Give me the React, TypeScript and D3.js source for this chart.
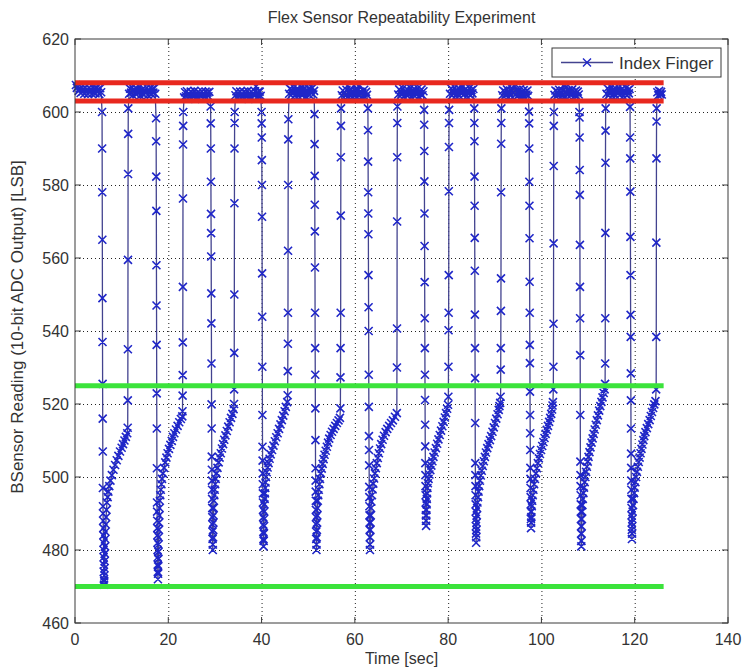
import React, { useEffect, useRef } from 'react';
import * as d3 from 'd3';

type Pt = [number, number];

// axis ticks
const xTicks = [0, 20, 40, 60, 80, 100, 120, 140];
const yTicks = [460, 480, 500, 520, 540, 560, 580, 600, 620];

// threshold lines (red = flexed band, green = released band)
const redLevels = [608, 603];
const greenLevels = [525, 470];
const levelEnd = 126.2;

// index finger readings [time sec, LSB], one array per flex cycle:
// plateau (finger straight), drop, slow recovery curve, rise back
const cycle01: Pt[] = [
  [0.2, 607.4], [0.4, 606.6], [0.6, 607.0], [0.8, 605.8], [1.0, 606.5], [1.2, 605.2], [1.4, 606.8], [1.6, 605.6],
  [1.8, 606.3], [2.0, 605.0], [2.2, 606.7], [2.4, 605.4], [2.6, 606.1], [2.8, 604.9], [3.0, 606.6], [3.2, 605.5],
  [3.4, 606.2], [3.6, 605.0], [3.8, 606.8], [4.0, 605.3], [4.2, 606.4], [4.4, 605.1], [4.6, 606.6], [4.8, 605.6],
  [5.0, 606.2], [5.2, 604.9], [5.4, 606.5], [5.6, 605.4],
  [5.8, 600], [5.82, 590], [5.84, 578], [5.86, 565], [5.88, 549], [5.9, 537], [5.92, 525.5], [5.94, 516], [5.96, 507],
  [5.98, 497], [6.0, 492], [6.02, 490], [6.04, 488], [6.06, 486], [6.08, 484], [6.1, 482], [6.12, 480], [6.14, 478],
  [6.16, 476], [6.18, 474], [6.2, 472], [6.22, 470.5],
  [6.26, 471.5], [6.29, 473], [6.32, 475], [6.36, 477], [6.4, 479], [6.44, 481], [6.49, 483], [6.54, 485], [6.6, 487],
  [6.67, 489], [6.75, 491], [6.85, 493], [7.0, 494.5], [7.15, 496], [7.35, 497.5], [7.6, 499], [7.9, 500.5], [8.25, 502],
  [8.6, 503.3], [8.95, 504.6], [9.3, 505.8], [9.65, 507], [10.0, 508], [10.3, 509], [10.6, 510], [10.9, 511], [11.2, 512],
  [11.3, 513.5], [11.32, 521], [11.34, 535], [11.36, 559.5], [11.38, 583], [11.4, 594], [11.42, 601],
];

const cycle02: Pt[] = [
  [11.6, 605.0], [11.8, 606.4], [12.0, 605.3], [12.2, 606.8], [12.4, 604.6], [12.6, 606.0], [12.8, 605.2], [13.0, 606.6],
  [13.2, 604.8], [13.4, 606.2], [13.6, 605.5], [13.8, 606.9], [14.0, 604.5], [14.2, 605.9], [14.4, 605.1], [14.6, 606.5],
  [14.8, 604.7], [15.0, 606.1], [15.2, 605.4], [15.4, 606.7], [15.6, 604.6], [15.8, 606.0], [16.0, 605.2], [16.2, 606.6],
  [16.4, 604.9], [16.6, 606.3], [16.8, 605.3], [17.0, 606.5], [17.2, 605.0],
  [17.38, 598.3], [17.4, 592], [17.42, 582.3], [17.44, 572.9], [17.46, 558], [17.48, 547], [17.5, 536.2], [17.52, 522.9],
  [17.54, 513.3], [17.56, 502.4], [17.58, 493], [17.6, 490.5], [17.62, 488], [17.64, 486], [17.66, 484], [17.68, 482],
  [17.7, 480], [17.72, 478], [17.74, 476], [17.76, 474], [17.78, 472],
  [17.81, 473.5], [17.83, 475.5], [17.86, 477.5], [17.89, 479.5], [17.92, 481.5], [17.95, 483.5], [17.99, 485.5],
  [18.03, 487.5], [18.08, 489.5], [18.13, 491.5], [18.19, 493.5], [18.28, 495], [18.4, 496.5], [18.53, 498], [18.66, 499.5],
  [18.85, 501], [19.1, 502.5], [19.35, 504], [19.6, 505.3], [19.85, 506.5], [20.15, 507.7], [20.45, 508.8], [20.75, 509.9],
  [21.0, 511], [21.3, 512], [21.65, 513], [22.0, 514], [22.35, 515], [22.7, 515.9], [23.0, 516.6],
  [23.05, 518], [23.07, 522.3], [23.09, 527.9], [23.11, 536.9], [23.13, 552.1], [23.15, 576.3], [23.17, 591.1],
  [23.19, 596.2], [23.21, 600],
];

const cycle03: Pt[] = [
  [23.4, 604.0], [23.6, 605.4], [23.8, 604.3], [24.0, 605.7], [24.2, 603.7], [24.4, 605.0], [24.6, 604.2], [24.8, 605.6],
  [25.0, 603.8], [25.2, 605.2], [25.4, 604.5], [25.6, 605.8], [25.8, 603.6], [26.0, 604.9], [26.2, 604.1], [26.4, 605.5],
  [26.6, 603.8], [26.8, 605.1], [27.0, 604.4], [27.2, 605.7], [27.4, 603.7], [27.6, 605.0], [27.8, 604.2], [28.0, 605.6],
  [28.2, 603.9], [28.4, 605.3], [28.6, 604.3], [28.8, 605.5],
  [29.08, 601.5], [29.1, 596.9], [29.12, 590], [29.14, 580.9], [29.16, 572.1], [29.18, 566.8], [29.2, 560.4],
  [29.22, 550.3], [29.24, 542.1], [29.26, 531.1], [29.28, 519.9], [29.3, 513.3], [29.32, 505.6], [29.34, 502],
  [29.36, 499], [29.38, 496.5], [29.4, 494], [29.42, 491.5], [29.44, 489], [29.46, 487], [29.48, 485], [29.5, 483],
  [29.52, 481.5], [29.54, 480],
  [29.57, 481.5], [29.6, 483.5], [29.63, 485.5], [29.66, 487.5], [29.7, 489.5], [29.74, 491.5], [29.79, 493.5],
  [29.87, 495], [29.96, 496.5], [30.06, 498], [30.17, 499.5], [30.35, 501], [30.55, 502.5], [30.8, 504], [31.0, 505.3],
  [31.25, 506.5], [31.5, 507.8], [31.75, 509], [32.0, 510.2], [32.25, 511.4], [32.55, 512.6], [32.85, 513.8],
  [33.15, 515], [33.45, 516.2], [33.75, 517.3], [34.0, 518.6],
  [34.1, 520], [34.12, 524], [34.14, 534], [34.16, 550], [34.18, 575], [34.2, 590], [34.22, 597], [34.24, 600],
];

const cycle04: Pt[] = [
  [34.4, 604.6], [34.6, 605.7], [34.8, 603.8], [35.0, 605.2], [35.2, 604.3], [35.4, 605.6], [35.6, 603.7], [35.8, 605.0],
  [36.0, 604.1], [36.2, 605.5], [36.4, 603.9], [36.6, 605.3], [36.8, 604.4], [37.0, 605.8], [37.2, 603.6], [37.4, 605.0],
  [37.6, 604.2], [37.8, 605.6], [38.0, 603.8], [38.2, 605.1], [38.4, 604.5], [38.6, 605.7], [38.8, 607.0], [39.0, 604.0],
  [39.2, 605.4], [39.4, 604.2], [39.6, 605.6], [39.8, 604.4],
  [40.0, 600], [40.02, 596.9], [40.04, 593], [40.06, 586.8], [40.08, 580], [40.1, 571.3], [40.12, 555.8], [40.14, 543.9],
  [40.16, 530.2], [40.18, 517], [40.2, 508.3], [40.22, 504.5], [40.24, 501], [40.26, 498], [40.28, 495.5], [40.3, 493],
  [40.32, 491], [40.34, 489], [40.36, 487], [40.38, 485], [40.4, 483], [40.42, 481],
  [40.45, 482.5], [40.48, 484.5], [40.51, 486.5], [40.54, 488.5], [40.57, 490.5], [40.61, 492.5], [40.66, 494],
  [40.72, 495.5], [40.79, 497], [40.86, 498.5], [40.94, 500], [41.1, 501.3], [41.3, 502.6], [41.5, 503.8], [41.72, 505],
  [41.95, 506.2], [42.25, 507.4], [42.55, 508.6], [42.85, 509.8], [43.15, 510.9], [43.45, 512], [43.75, 513.2],
  [44.05, 514.4], [44.35, 515.6], [44.65, 516.8], [44.95, 518], [45.2, 519.2], [45.5, 520.5],
  [45.6, 522.4], [45.62, 529], [45.64, 536.5], [45.66, 545], [45.68, 562], [45.7, 580], [45.72, 592.5], [45.74, 598],
];

const cycle05: Pt[] = [
  [45.9, 605.0], [46.1, 606.4], [46.3, 604.6], [46.5, 606.0], [46.7, 605.2], [46.9, 606.7], [47.1, 604.4], [47.3, 605.8],
  [47.5, 605.0], [47.7, 606.5], [47.9, 604.3], [48.1, 605.7], [48.3, 605.1], [48.5, 606.8], [48.7, 604.5], [48.9, 606.1],
  [49.1, 605.3], [49.3, 606.6], [49.5, 604.2], [49.7, 605.9], [49.9, 605.0], [50.1, 606.4], [50.3, 604.6], [50.5, 606.2],
  [50.7, 605.2], [50.9, 606.6], [51.1, 604.8], [51.25, 605.8],
  [51.35, 599.4], [51.37, 591.2], [51.39, 582.5], [51.41, 574.6], [51.43, 567.3], [51.45, 557.4], [51.47, 545],
  [51.49, 535.3], [51.51, 528], [51.53, 518.8], [51.55, 510.1], [51.57, 502.4], [51.59, 499], [51.61, 496],
  [51.63, 493.5], [51.65, 491], [51.67, 489], [51.69, 487], [51.71, 485], [51.73, 483], [51.75, 481.5], [51.77, 480],
  [51.8, 481.5], [51.83, 483.5], [51.86, 485.5], [51.9, 487.5], [51.94, 489.5], [51.99, 491.5], [52.06, 493.5],
  [52.15, 495], [52.27, 496.5], [52.4, 498], [52.53, 499.5], [52.7, 501], [52.9, 502.3], [53.1, 503.6], [53.3, 504.9],
  [53.5, 506.1], [53.75, 507.2], [54.0, 508.3], [54.25, 509.4], [54.5, 510.5], [54.8, 511.5], [55.1, 512.4],
  [55.45, 513.2], [55.8, 514], [56.15, 514.8], [56.5, 515.5], [56.8, 516.2],
  [56.9, 518.8], [56.92, 527.3], [56.94, 535.3], [56.96, 545], [56.98, 571.6], [57.0, 587.6], [57.02, 596.2], [57.04, 601],
];

const cycle06: Pt[] = [
  [57.2, 604.6], [57.4, 605.9], [57.6, 604.0], [57.8, 605.4], [58.0, 604.5], [58.2, 606.1], [58.4, 607.2], [58.6, 604.2],
  [58.8, 605.7], [59.0, 604.8], [59.2, 606.3], [59.4, 603.9], [59.6, 605.3], [59.8, 607.3], [60.0, 604.4], [60.2, 605.8],
  [60.4, 604.1], [60.6, 606.0], [60.8, 607.1], [61.0, 604.5], [61.2, 605.6], [61.4, 603.8], [61.6, 605.2], [61.8, 604.6],
  [62.0, 606.1], [62.2, 604.0], [62.4, 605.5], [62.6, 604.7],
  [62.8, 601], [62.82, 595], [62.84, 586.4], [62.86, 578], [62.88, 572.2], [62.9, 566.5], [62.92, 555.3], [62.94, 546.5],
  [62.96, 540], [62.98, 528], [63.0, 519.2], [63.02, 511.2], [63.04, 507.4], [63.06, 503.2], [63.08, 497.3],
  [63.1, 494.5], [63.12, 492], [63.14, 489.5], [63.16, 487.5], [63.18, 485.5], [63.2, 483.5], [63.22, 481.5], [63.24, 480],
  [63.27, 481.5], [63.3, 483.5], [63.33, 485.5], [63.37, 487.5], [63.41, 489.5], [63.47, 491.5], [63.55, 493.3],
  [63.67, 495], [63.8, 496.6], [63.95, 498.2], [64.12, 499.6], [64.3, 501], [64.5, 502.4], [64.7, 503.8], [64.92, 505.2],
  [65.15, 506.5], [65.4, 507.8], [65.65, 509], [65.95, 510.2], [66.25, 511.3], [66.6, 512.3], [66.95, 513.2],
  [67.35, 514], [67.75, 514.8], [68.15, 515.5], [68.6, 516.5],
  [69.0, 517.5], [69.02, 530], [69.04, 540.7], [69.06, 570], [69.08, 587.6], [69.1, 597], [69.12, 601.5],
];

const cycle07: Pt[] = [
  [69.3, 604.8], [69.5, 606.2], [69.7, 604.3], [69.9, 605.7], [70.1, 605.0], [70.3, 606.5], [70.5, 604.2], [70.7, 605.6],
  [70.9, 604.9], [71.1, 606.3], [71.3, 604.4], [71.5, 605.9], [71.7, 605.1], [71.9, 606.6], [72.1, 604.1], [72.3, 605.5],
  [72.5, 604.8], [72.7, 606.4], [72.9, 604.3], [73.1, 605.8], [73.3, 605.0], [73.5, 606.5], [73.7, 604.2], [73.9, 605.6],
  [74.1, 604.9], [74.3, 606.2], [74.5, 604.6], [74.7, 605.7],
  [74.85, 600.6], [74.87, 596.5], [74.89, 589.3], [74.91, 581], [74.93, 572.2], [74.95, 563.3], [74.97, 553.4],
  [74.99, 543.5], [75.01, 535.3], [75.03, 528], [75.05, 521.1], [75.07, 514.3], [75.09, 508.4], [75.11, 503.8],
  [75.13, 500.5], [75.15, 497.5], [75.17, 495], [75.19, 493], [75.21, 491], [75.23, 489.5], [75.25, 488], [75.27, 486.6],
  [75.3, 488], [75.33, 489.5], [75.36, 491], [75.39, 492.5], [75.43, 494], [75.49, 495.5], [75.56, 497], [75.66, 498.3],
  [75.8, 499.5], [75.98, 500.7], [76.18, 501.9], [76.4, 503.1], [76.62, 504.3], [76.85, 505.5], [77.1, 506.7],
  [77.38, 507.9], [77.65, 509.1], [77.92, 510.3], [78.2, 511.5], [78.48, 512.7], [78.76, 513.9], [79.03, 515.1],
  [79.3, 516.3], [79.55, 517.5], [79.78, 518.7], [79.98, 519.8],
  [80.05, 522], [80.07, 530.2], [80.09, 540.2], [80.11, 545], [80.13, 555.3], [80.15, 578.3], [80.17, 590.4],
  [80.19, 597], [80.21, 600.6],
];

const cycle08: Pt[] = [
  [80.4, 605.0], [80.6, 606.5], [80.8, 604.5], [81.0, 606.0], [81.2, 605.2], [81.4, 606.7], [81.6, 604.3], [81.8, 605.8],
  [82.0, 605.1], [82.2, 606.6], [82.4, 604.4], [82.6, 606.1], [82.8, 605.3], [83.0, 606.8], [83.2, 604.6], [83.4, 605.9],
  [83.6, 605.0], [83.8, 606.4], [84.0, 604.3], [84.2, 605.7], [84.4, 605.2], [84.6, 606.6], [84.8, 604.5], [85.0, 606.0],
  [85.2, 605.1], [85.4, 606.3],
  [85.6, 601], [85.62, 597], [85.64, 592], [85.66, 582.3], [85.68, 574.3], [85.7, 565.5], [85.72, 556.5], [85.74, 544.5],
  [85.76, 535.3], [85.78, 527.1], [85.8, 514.8], [85.82, 503.8], [85.84, 500.5], [85.86, 497.5], [85.88, 495],
  [85.9, 492.5], [85.92, 490.5], [85.94, 488.5], [85.96, 486.5], [85.98, 484.5], [86.0, 482],
  [86.03, 483.5], [86.06, 485.5], [86.1, 487.5], [86.15, 489.5], [86.21, 491.5], [86.29, 493], [86.4, 494.5],
  [86.52, 496], [86.66, 497.5], [86.82, 499], [87.0, 500.4], [87.2, 501.7], [87.42, 503], [87.65, 504.3], [87.88, 505.5],
  [88.1, 506.7], [88.38, 507.9], [88.66, 509], [88.95, 510.1], [89.22, 511.2], [89.5, 512.4], [89.78, 513.6],
  [90.05, 514.8], [90.32, 516], [90.6, 517.2], [90.85, 518.4], [91.0, 519.4], [91.15, 520.3],
  [91.25, 522], [91.27, 529.4], [91.29, 535.3], [91.31, 545.5], [91.33, 554.4], [91.35, 578], [91.37, 591.3],
  [91.39, 597], [91.41, 601],
];

const cycle09: Pt[] = [
  [91.6, 604.6], [91.8, 605.9], [92.0, 604.1], [92.2, 605.5], [92.4, 604.8], [92.6, 606.2], [92.8, 603.9], [93.0, 605.3],
  [93.2, 607.1], [93.4, 604.5], [93.6, 605.8], [93.8, 604.0], [94.0, 605.4], [94.2, 607.2], [94.4, 604.7], [94.6, 606.1],
  [94.8, 604.2], [95.0, 605.6], [95.2, 604.9], [95.4, 606.3], [95.6, 603.8], [95.8, 605.2], [96.0, 604.6], [96.2, 606.0],
  [96.4, 604.1], [96.6, 605.5], [96.8, 604.8], [97.0, 605.9], [97.15, 604.4],
  [97.35, 600.1], [97.37, 596.9], [97.39, 590], [97.41, 580.9], [97.43, 574.3], [97.45, 565.4], [97.47, 553.5],
  [97.49, 545], [97.51, 536.2], [97.53, 531.2], [97.55, 523.4], [97.57, 517], [97.59, 512], [97.61, 507.4],
  [97.63, 502.5], [97.65, 499.5], [97.67, 497], [97.69, 494.5], [97.71, 492.5], [97.73, 490.5], [97.75, 488.5],
  [97.77, 486],
  [97.8, 487.5], [97.83, 489], [97.87, 490.5], [97.93, 492], [98.02, 493.5], [98.14, 495], [98.28, 496.5], [98.44, 498],
  [98.62, 499.5], [98.82, 501], [99.02, 502.4], [99.23, 503.8], [99.45, 505.1], [99.68, 506.3], [99.92, 507.4],
  [100.17, 508.5], [100.42, 509.6], [100.66, 510.7], [100.9, 511.8], [101.15, 512.9], [101.4, 514], [101.65, 515.1],
  [101.88, 516.2], [102.1, 517.3], [102.28, 518.5], [102.38, 519.6], [102.47, 520.5],
  [102.55, 524], [102.57, 530.2], [102.59, 542], [102.61, 564], [102.63, 585.2], [102.65, 596.2], [102.67, 600],
];

const cycle10: Pt[] = [
  [102.8, 604.7], [103.0, 605.9], [103.2, 604.2], [103.4, 605.6], [103.6, 604.8], [103.8, 606.1], [104.0, 603.9],
  [104.2, 605.3], [104.4, 604.5], [104.6, 605.8], [104.8, 607.1], [105.0, 604.3], [105.2, 605.6], [105.4, 607.0],
  [105.6, 604.6], [105.8, 606.0], [106.0, 604.1], [106.2, 605.4], [106.4, 604.8], [106.6, 606.2], [106.8, 603.9],
  [107.0, 605.5], [107.2, 604.5], [107.4, 605.9], [107.6, 604.2], [107.8, 605.6], [108.0, 604.8],
  [108.15, 600], [108.17, 598.5], [108.19, 593], [108.21, 584.1], [108.23, 577.3], [108.25, 563.6], [108.27, 552.1],
  [108.29, 543.5], [108.31, 533.4], [108.33, 517], [108.35, 504.2], [108.37, 500.5], [108.39, 497.5], [108.41, 495],
  [108.43, 492.5], [108.45, 490.5], [108.47, 488.5], [108.49, 486.5], [108.51, 484.5], [108.53, 482.5], [108.55, 481],
  [108.58, 482.5], [108.61, 484.5], [108.64, 486.5], [108.68, 488.5], [108.73, 490.5], [108.79, 492.3], [108.88, 494],
  [109.0, 495.6], [109.13, 497.1], [109.27, 498.6], [109.42, 500], [109.58, 501.4], [109.75, 502.8], [109.93, 504.2],
  [110.1, 505.5], [110.3, 506.8], [110.52, 508.1], [110.75, 509.4], [110.98, 510.6], [111.2, 511.8], [111.42, 513],
  [111.65, 514.3], [111.88, 515.6], [112.12, 516.9], [112.38, 518.2], [112.62, 519.4], [112.86, 520.6], [113.1, 521.8],
  [113.35, 523], [113.55, 524],
  [113.65, 525.5], [113.67, 531.1], [113.69, 543.5], [113.71, 566.9], [113.73, 586.1], [113.75, 594.9], [113.77, 601],
];

const cycle11: Pt[] = [
  [113.95, 605.0], [114.15, 606.5], [114.35, 604.5], [114.55, 606.0], [114.75, 605.3], [114.95, 606.8], [115.15, 604.3],
  [115.35, 605.8], [115.55, 605.1], [115.75, 606.6], [115.95, 604.4], [116.15, 606.1], [116.35, 605.2], [116.55, 606.7],
  [116.75, 604.6], [116.95, 605.9], [117.15, 605.0], [117.35, 606.5], [117.55, 604.3], [117.75, 605.7], [117.95, 605.2],
  [118.15, 606.6], [118.35, 604.5], [118.55, 606.0], [118.75, 605.1], [118.9, 606.3],
  [119.0, 601.4], [119.02, 593], [119.04, 587.3], [119.06, 578.2], [119.08, 565.8], [119.1, 555.3], [119.12, 544.4],
  [119.14, 538.4], [119.16, 528.4], [119.18, 521], [119.2, 513.3], [119.22, 506.4], [119.24, 502.5], [119.26, 499],
  [119.28, 496.5], [119.3, 494], [119.32, 491.5], [119.34, 489.5], [119.36, 487.5], [119.38, 485.5], [119.4, 483],
  [119.43, 484.5], [119.46, 486.5], [119.5, 488.5], [119.56, 490.5], [119.64, 492.3], [119.75, 494], [119.87, 495.6],
  [120.0, 497.1], [120.15, 498.6], [120.3, 500], [120.48, 501.4], [120.67, 502.8], [120.86, 504.1], [121.05, 505.3],
  [121.25, 506.5], [121.45, 507.7], [121.65, 508.9], [121.85, 510.1], [122.05, 511.2], [122.3, 512.3], [122.6, 513.4],
  [122.9, 514.5], [123.2, 515.6], [123.45, 516.7], [123.7, 517.8], [123.95, 518.9], [124.2, 519.9], [124.45, 520.8],
  [124.6, 524], [124.62, 538.4], [124.64, 564.2], [124.66, 587.3], [124.68, 597.4], [124.7, 601],
];

const tail: Pt[] = [[124.85, 605.4], [125.05, 604.6], [125.25, 605.8], [125.45, 604.9], [125.65, 605.5], [125.8, 604.8]];

const readings: Pt[] = [
  ...cycle01, ...cycle02, ...cycle03, ...cycle04, ...cycle05, ...cycle06,
  ...cycle07, ...cycle08, ...cycle09, ...cycle10, ...cycle11, ...tail,
];

const FONT = '"Liberation Sans", Arial, sans-serif';

const App = () => {
  const ref = useRef<SVGSVGElement>(null);

  useEffect(() => {
    const svg = d3.select(ref.current);
    svg.selectAll('*').remove();

    const width = 744;
    const height = 670;
    const margin = { top: 39, right: 16, bottom: 47, left: 75 };
    const left = margin.left;
    const right = width - margin.right;
    const top = margin.top;
    const bottom = height - margin.bottom;

    const x = d3.scaleLinear().domain([0, 140]).range([left, right]);
    const y = d3.scaleLinear().domain([460, 620]).range([bottom, top]);

    svg.append('rect').attr('width', width).attr('height', height).attr('fill', '#fff');

    // dotted grid
    const grid = svg.append('g').attr('stroke', '#222').attr('stroke-width', 1).attr('stroke-dasharray', '1,3');
    xTicks.slice(1, -1).forEach((t) => {
      grid.append('line').attr('x1', x(t) + 0.5).attr('x2', x(t) + 0.5).attr('y1', top).attr('y2', bottom);
    });
    yTicks.slice(1, -1).forEach((t) => {
      grid.append('line').attr('y1', y(t) + 0.5).attr('y2', y(t) + 0.5).attr('x1', left).attr('x2', right);
    });

    // data line + x markers
    const plot = svg.append('g');
    const line = d3
      .line<Pt>()
      .x((d) => x(d[0]))
      .y((d) => y(d[1]));
    plot
      .append('path')
      .datum(readings)
      .attr('fill', 'none')
      .attr('stroke', '#43438f')
      .attr('stroke-width', 1.3)
      .attr('d', line);

    const r = 4;
    const cross = (px: number, py: number) =>
      `M${px - r},${py - r}L${px + r},${py + r}M${px - r},${py + r}L${px + r},${py - r}`;
    const marks = readings.map(([t, v]) => cross(x(t), y(v))).join('');
    plot.append('path').attr('d', marks).attr('fill', 'none').attr('stroke', '#1f26c8').attr('stroke-width', 1.6);

    // threshold bands
    redLevels.forEach((v) => {
      svg.append('line').attr('x1', x(0)).attr('x2', x(levelEnd)).attr('y1', y(v)).attr('y2', y(v))
        .attr('stroke', '#e8281e').attr('stroke-width', 5);
    });
    greenLevels.forEach((v) => {
      svg.append('line').attr('x1', x(0)).attr('x2', x(levelEnd)).attr('y1', y(v)).attr('y2', y(v))
        .attr('stroke', '#3be33b').attr('stroke-width', 5);
    });

    // axes box and inward ticks
    const axisColor = '#3a3a3a';
    svg.append('rect').attr('x', left).attr('y', top).attr('width', right - left).attr('height', bottom - top)
      .attr('fill', 'none').attr('stroke', axisColor).attr('stroke-width', 1);
    const ticks = svg.append('g').attr('stroke', axisColor).attr('stroke-width', 1);
    xTicks.forEach((t) => {
      ticks.append('line').attr('x1', x(t)).attr('x2', x(t)).attr('y1', bottom).attr('y2', bottom - 6);
      ticks.append('line').attr('x1', x(t)).attr('x2', x(t)).attr('y1', top).attr('y2', top + 6);
    });
    yTicks.forEach((t) => {
      ticks.append('line').attr('y1', y(t)).attr('y2', y(t)).attr('x1', left).attr('x2', left + 6);
      ticks.append('line').attr('y1', y(t)).attr('y2', y(t)).attr('x1', right).attr('x2', right - 6);
    });

    const label = svg.append('g').attr('font-family', FONT).attr('fill', '#333');
    xTicks.forEach((t) => {
      label.append('text').attr('x', x(t)).attr('y', bottom + 22).attr('text-anchor', 'middle')
        .attr('font-size', 16).text(t);
    });
    yTicks.forEach((t) => {
      label.append('text').attr('x', left - 6).attr('y', y(t) + 6).attr('text-anchor', 'end')
        .attr('font-size', 16).text(t);
    });

    label.append('text').attr('x', (left + right) / 2).attr('y', 23).attr('text-anchor', 'middle')
      .attr('font-size', 16).text('Flex Sensor Repeatability Experiment');
    label.append('text').attr('x', (left + right) / 2).attr('y', 664).attr('text-anchor', 'middle')
      .attr('font-size', 16).text('Time [sec]');
    label.append('text').attr('transform', 'translate(23,327) rotate(-90)')
      .attr('text-anchor', 'middle').attr('font-size', 17).text('BSensor Reading (10-bit ADC Output) [LSB]');

    // legend
    const lg = svg.append('g');
    lg.append('rect').attr('x', 552).attr('y', 48).attr('width', 169).attr('height', 29)
      .attr('fill', '#fff').attr('stroke', axisColor).attr('stroke-width', 1);
    lg.append('line').attr('x1', 561).attr('x2', 613).attr('y1', 62.5).attr('y2', 62.5)
      .attr('stroke', '#43438f').attr('stroke-width', 1.3);
    lg.append('path').attr('d', cross(587, 62.5)).attr('stroke', '#1f26c8').attr('stroke-width', 1.4);
    lg.append('text').attr('x', 619).attr('y', 68.5).attr('font-family', FONT).attr('font-size', 17)
      .attr('fill', '#333').text('Index Finger');
  }, []);

  return (
    <svg
      ref={ref}
      width={744}
      height={670}
      style={{ position: 'absolute', left: 0, top: 0 }}
    ></svg>
  );
};

export default App;
